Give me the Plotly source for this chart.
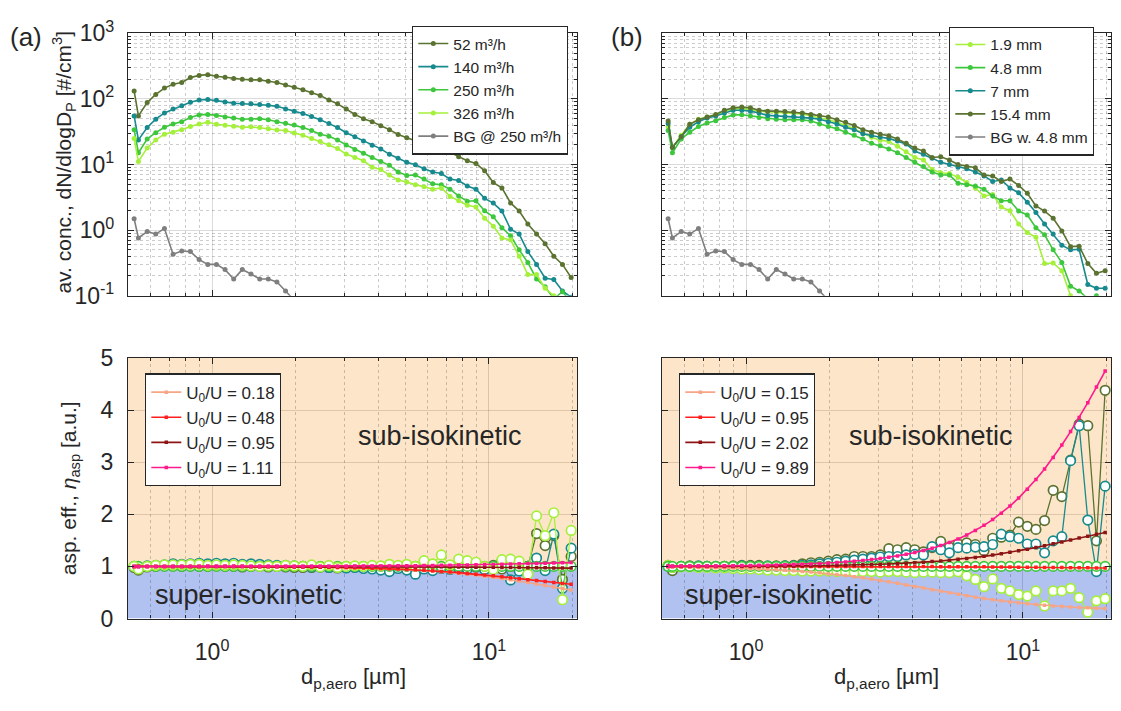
import math
import plotly.graph_objects as go

# ---------------- data ----------------
d_aero = [0.523, 0.542, 0.583, 0.626, 0.673, 0.723, 0.777, 0.835, 0.898, 0.965,
          1.037, 1.114, 1.197, 1.286, 1.382, 1.486, 1.596, 1.715, 1.843, 1.981,
          2.129, 2.288, 2.458, 2.642, 2.839, 3.051, 3.278, 3.523, 3.786, 4.068,
          4.371, 4.698, 5.048, 5.425, 5.829, 6.264, 6.732, 7.234, 7.774, 8.354,
          8.977, 9.647, 10.37, 11.14, 11.97, 12.86, 13.82, 14.86, 15.96, 17.15,
          18.43, 19.81]

# panel (a) top: flow rates
conc_52 = [132, 55, 88, 117, 146, 167, 178, 211, 228, 234,
           222, 213, 204, 199, 195, 195, 186, 178, 163, 151,
           138, 124, 113, 96, 84, 70, 58, 50, 45, 39,
           34, 28.7, 25.6, 23.2, 20.5, 18.7, 17.3, 15.3, 13.1, 11.4,
           10.4, 8.0, 5.3, 4.4, 2.6, 1.95, 1.24, 0.87, 0.62, 0.40,
           0.30, 0.19]
conc_140 = [55, 23.7, 36.7, 49, 61, 70, 78.5, 89, 96, 98,
            95, 90, 86, 85, 84, 82, 80, 77, 70, 65,
            60, 54, 48, 42, 36.7, 30.5, 26.5, 22.9, 19.6, 17.3,
            14.3, 12.4, 10.8, 9.9, 8.6, 7.7, 7.3, 6.0, 5.7, 4.7,
            4.2, 3.05, 2.58, 1.95, 1.03, 0.87, 0.47, 0.30, 0.185, 0.177,
            0.118, 0.095]
conc_250 = [34, 15.1, 24.5, 30.6, 37, 41.5, 45, 52, 57, 58,
            56, 53, 51, 49, 49, 50, 48, 45, 42.5, 40,
            36.7, 33, 29, 27, 23.7, 19.8, 16.9, 14.8, 12.8, 11.1,
            9.7, 7.7, 6.8, 6.9, 6.0, 5.1, 4.9, 4.2, 3.3, 2.75,
            2.8, 1.97, 1.6, 1.09, 0.82, 0.5, 0.32, 0.18, 0.137, 0.09,
            0.115, 0.08]
conc_326 = [25, 11.1, 17.9, 23.7, 29, 31, 34, 38, 41.5, 44,
            41, 39.7, 38.4, 37, 37.5, 36.7, 35, 33.6, 33, 30.3,
            28, 25, 22.4, 20, 17.5, 14.4, 12.8, 11.4, 9.1, 8.4,
            6.9, 5.8, 5.4, 4.9, 4.6, 4.2, 4.4, 3.26, 2.8, 2.4,
            2.25, 1.52, 1.15, 0.76, 0.71, 0.40, 0.21, 0.21, 0.13, 0.10,
            0.07, 0.05]
conc_bg = [1.49, 0.76, 0.95, 0.87, 1.06, 0.43, 0.48, 0.47, 0.355, 0.30,
           0.30, 0.25, 0.18, 0.25, 0.214, 0.18, 0.18, 0.162, 0.118, 0.085,
           None, None, None, None, None, None, None, None, None, None,
           None, None, None, None, None, None, None, None, None, None,
           None, None, None, None, None, None, None, None, None, None,
           None, None]

# panel (b) top: nozzle diameters
conc_1_9 = [38, 18, 28, 41, 49, 53, 57, 64, 70, 71,
            69, 65, 64, 62, 62, 61, 59, 55, 52, 48,
            44, 39, 35, 30, 26, 23.5, 22.4, 18.9, 15.6, 12.8,
            11.7, 8.4, 7.5, 7.3, 6.4, 5.3, 4.4, 3.3, 3.5, 2.25,
            1.97, 1.24, 0.92, 0.78, 0.31, 0.315, 0.24, 0.10, 0.07, 0.05,
            0.04, 0.03]
conc_4_8 = [33, 15.1, 24.5, 31, 38, 43, 46.5, 52, 57, 57.4,
            55, 52, 50, 49, 48, 48, 48, 46, 41.5, 38,
            35, 31, 28, 24.5, 21, 19.3, 17.3, 15.1, 12.8, 10.8,
            9.35, 7.7, 6.9, 6.9, 5.2, 4.9, 4.7, 4.2, 3.3, 2.8,
            2.8, 1.95, 1.7, 1.09, 0.85, 0.5, 0.32, 0.14, 0.118, 0.09,
            0.10, 0.07]
conc_7 = [42, 18.3, 26.5, 37, 45, 51, 55, 61, 67, 67,
          65, 61, 56, 55, 54, 54, 52.5, 51, 49, 45,
          41.5, 37, 34, 29.5, 27.6, 26, 25, 22.9, 20.5, 16,
          14.3, 12.5, 10.8, 10, 9.1, 8.6, 7.7, 6.7, 5.5, 5.8,
          4.4, 3.7, 2.67, 1.86, 1.24, 0.87, 0.59, 0.50, 0.51, 0.148,
          0.13, 0.13]
conc_15_4 = [46, 18.3, 26.5, 41, 48, 53, 58, 67, 73, 75,
             73, 67, 65, 65, 64, 63, 61, 58, 56, 53,
             48, 44, 39.4, 34, 31, 29, 27.5, 24.5, 21, 17.9,
             16, 12.8, 13.1, 11.7, 10, 9.35, 8.9, 6.9, 6.7, 5.5,
             6.0, 4.8, 3.65, 2.33, 1.95, 1.52, 0.97, 0.56, 0.57, 0.31,
             0.22, 0.24]

# panel (a) bottom: measured aspiration efficiency
eta_52 = [0.98, 0.93, 0.99, 1.00, 1.01, 1.01, 1.00, 1.01, 1.00, 1.00,
          1.01, 1.00, 1.00, 0.99, 1.00, 1.00, 0.99, 1.00, 0.99, 0.98,
          0.98, 0.98, 0.99, 0.98, 0.97, 0.98, 0.99, 0.98, 0.97, 0.96,
          0.97, 0.98, 0.97, 0.97, 0.96, 0.98, 0.97, 0.98, 0.96, 0.98,
          0.99, 0.98, 1.02, 0.95, 1.00, 0.98, 1.00, 1.63, 1.40, 1.59,
          0.75, 1.19]
eta_140 = [1.00, 0.97, 1.01, 1.02, 1.03, 1.05, 1.04, 1.05, 1.06, 1.05,
           1.06, 1.05, 1.06, 1.04, 1.05, 1.04, 1.03, 1.02, 1.02, 1.01,
           1.00, 0.99, 0.99, 0.98, 0.98, 0.97, 0.98, 0.96, 0.95, 0.93,
           0.90, 0.96, 0.93, 0.85, 0.95, 0.92, 0.96, 0.94, 0.97, 0.95,
           1.00, 0.94, 0.97, 1.10, 0.74, 0.91, 1.00, 1.16, 0.92, 1.62,
           0.58, 1.35]
eta_250 = [1.0] * 52
eta_326 = [1.00, 0.95, 1.00, 1.02, 1.03, 1.03, 1.03, 1.04, 1.04, 1.02,
           1.03, 1.02, 1.03, 1.02, 1.01, 1.00, 1.01, 1.00, 1.02, 1.01,
           1.00, 1.03, 0.99, 1.02, 0.98, 1.00, 1.01, 1.00, 1.02, 1.01,
           1.04, 1.02, 1.04, 1.00, 1.11, 1.05, 1.22, 1.03, 1.14, 1.11,
           1.08, 1.00, 0.94, 1.13, 1.14, 1.10, 0.85, 1.97, 1.59, 2.03,
           0.36, 1.69]

# panel (b) bottom: measured aspiration efficiency
eta_1_9 = [1.02, 0.98, 0.99, 0.99, 0.98, 0.98, 0.97, 0.97, 0.96, 0.95,
           0.95, 0.94, 0.93, 0.93, 0.92, 0.92, 0.91, 0.91, 0.91, 0.91,
           0.90, 0.90, 0.89, 0.90, 0.90, 0.89, 0.90, 0.90, 0.89, 0.88,
           0.89, 0.89, 0.88, 0.88, 0.895, 0.82, 0.75, 0.61, 0.76, 0.58,
           0.53, 0.46, 0.43, 0.53, 0.24, 0.53, 0.53, 0.58, 0.40, 0.12,
           0.34, 0.38]
eta_4_8 = [1.0] * 52
eta_7 = [1.00, 0.98, 1.00, 1.00, 1.01, 1.00, 1.00, 1.00, 1.00, 1.01,
         1.00, 1.00, 1.01, 1.00, 1.01, 1.01, 1.02, 1.03, 1.05, 1.06,
         1.08, 1.10, 1.12, 1.14, 1.16, 1.18, 1.19, 1.19, 1.22, 1.23,
         1.22, 1.38, 1.32, 1.26, 1.36, 1.35, 1.37, 1.38, 1.42, 1.62,
         1.57, 1.54, 1.43, 1.43, 1.26, 1.49, 1.57, 3.03, 3.70, 1.89,
         0.90, 2.54]
eta_15_4 = [1.02, 0.92, 1.00, 1.01, 1.00, 1.00, 0.99, 1.00, 1.01, 1.02,
            1.02, 1.02, 1.00, 1.01, 1.01, 1.02, 1.05, 1.07, 1.08, 1.10,
            1.13, 1.14, 1.19, 1.19, 1.19, 1.22, 1.34, 1.32, 1.36, 1.32,
            1.28, 1.36, 1.48, 1.37, 1.43, 1.45, 1.42, 1.30, 1.54, 1.56,
            1.60, 1.85, 1.77, 1.71, 1.88, 2.46, 2.34, 3.04, 3.73, 3.70,
            1.49, 4.38]

# model curves, panel (a)
model_a_018 = [0.999, 0.999, 0.999, 0.999, 0.999, 0.999, 0.998, 0.998, 0.998, 0.998,
               0.997, 0.997, 0.996, 0.996, 0.995, 0.994, 0.993, 0.992, 0.991, 0.990,
               0.988, 0.987, 0.985, 0.982, 0.980, 0.976, 0.973, 0.969, 0.964, 0.959,
               0.953, 0.946, 0.939, 0.930, 0.920, 0.909, 0.897, 0.883, 0.868, 0.851,
               0.833, 0.813, 0.791, 0.768, 0.743, 0.718, 0.690, 0.662, 0.633, 0.604,
               0.574, 0.545]
model_a_048 = [0.999, 0.999, 0.999, 0.999, 0.999, 0.999, 0.998, 0.998, 0.998, 0.998,
               0.997, 0.997, 0.996, 0.996, 0.995, 0.994, 0.994, 0.993, 0.991, 0.990,
               0.989, 0.987, 0.985, 0.983, 0.980, 0.977, 0.974, 0.970, 0.965, 0.960,
               0.955, 0.948, 0.941, 0.934, 0.925, 0.915, 0.904, 0.892, 0.880, 0.866,
               0.851, 0.835, 0.819, 0.801, 0.783, 0.765, 0.746, 0.728, 0.709, 0.691,
               0.673, 0.656]
model_a_095 = [1.000, 1.000, 1.000, 1.000, 1.000, 1.000, 1.000, 1.000, 1.000, 1.000,
               1.000, 1.000, 1.000, 1.000, 1.000, 0.999, 0.999, 0.999, 0.999, 0.999,
               0.999, 0.999, 0.999, 0.998, 0.998, 0.998, 0.997, 0.997, 0.997, 0.996,
               0.996, 0.995, 0.994, 0.994, 0.993, 0.992, 0.991, 0.990, 0.988, 0.987,
               0.986, 0.984, 0.983, 0.981, 0.979, 0.977, 0.976, 0.974, 0.972, 0.970,
               0.969, 0.967]
model_a_111 = [1.000, 1.000, 1.000, 1.000, 1.000, 1.000, 1.000, 1.000, 1.000, 1.001,
               1.001, 1.001, 1.001, 1.001, 1.001, 1.001, 1.001, 1.002, 1.002, 1.002,
               1.002, 1.003, 1.003, 1.004, 1.004, 1.005, 1.006, 1.006, 1.007, 1.008,
               1.010, 1.011, 1.012, 1.014, 1.016, 1.018, 1.020, 1.023, 1.025, 1.028,
               1.032, 1.035, 1.038, 1.042, 1.046, 1.050, 1.054, 1.058, 1.062, 1.065,
               1.069, 1.073]

# model curves, panel (b)
model_b_015 = [0.989, 0.988, 0.986, 0.984, 0.981, 0.978, 0.975, 0.971, 0.967, 0.962,
               0.957, 0.950, 0.943, 0.935, 0.926, 0.916, 0.904, 0.891, 0.877, 0.861,
               0.843, 0.824, 0.803, 0.780, 0.756, 0.730, 0.703, 0.675, 0.645, 0.615,
               0.585, 0.554, 0.524, 0.494, 0.465, 0.437, 0.410, 0.385, 0.361, 0.339,
               0.319, 0.300, 0.283, 0.268, 0.254, 0.242, 0.231, 0.221, 0.212, 0.204,
               0.197, 0.191]
model_b_095 = [1.000, 1.000, 1.000, 1.000, 1.000, 1.000, 1.000, 1.000, 1.000, 1.000,
               1.000, 1.000, 1.000, 1.000, 1.000, 1.000, 0.999, 0.999, 0.999, 0.999,
               0.999, 0.999, 0.999, 0.998, 0.998, 0.998, 0.998, 0.997, 0.997, 0.997,
               0.996, 0.996, 0.995, 0.994, 0.993, 0.993, 0.992, 0.991, 0.989, 0.988,
               0.987, 0.985, 0.984, 0.982, 0.980, 0.979, 0.977, 0.975, 0.973, 0.972,
               0.970, 0.968]
model_b_202 = [1.001, 1.001, 1.002, 1.002, 1.002, 1.002, 1.003, 1.003, 1.004, 1.004,
               1.005, 1.006, 1.007, 1.008, 1.009, 1.010, 1.012, 1.013, 1.015, 1.018,
               1.020, 1.023, 1.027, 1.031, 1.036, 1.041, 1.047, 1.054, 1.061, 1.070,
               1.080, 1.092, 1.104, 1.119, 1.135, 1.152, 1.172, 1.193, 1.217, 1.243,
               1.270, 1.300, 1.331, 1.364, 1.398, 1.434, 1.470, 1.507, 1.543, 1.579,
               1.615, 1.650]
model_b_989 = [1.005, 1.005, 1.006, 1.006, 1.007, 1.009, 1.010, 1.012, 1.013, 1.015,
               1.018, 1.020, 1.024, 1.027, 1.031, 1.036, 1.042, 1.048, 1.056, 1.064,
               1.074, 1.086, 1.099, 1.114, 1.131, 1.151, 1.174, 1.201, 1.231, 1.265,
               1.305, 1.350, 1.402, 1.461, 1.528, 1.604, 1.691, 1.788, 1.898, 2.021,
               2.158, 2.311, 2.481, 2.667, 2.870, 3.091, 3.329, 3.587, 3.857, 4.143,
               4.441, 4.750]

labels_a = ["52 m³/h", "140 m³/h", "250 m³/h", "326 m³/h", "BG @ 250 m³/h"]
labels_b = ["1.9 mm", "4.8 mm", "7 mm", "15.4 mm", "BG w. 4.8 mm"]
model_labels_a = ["U<sub>0</sub>/U = 0.18", "U<sub>0</sub>/U = 0.48",
                  "U<sub>0</sub>/U = 0.95", "U<sub>0</sub>/U = 1.11"]
model_labels_b = ["U<sub>0</sub>/U = 0.15", "U<sub>0</sub>/U = 0.95",
                  "U<sub>0</sub>/U = 2.02", "U<sub>0</sub>/U = 9.89"]

# ---------------- style ----------------
OLIVE = "#5B7331"
TEAL = "#178A8E"
GREEN = "#3DC73D"
LIME = "#A5F03A"
GRAY = "#7F7F7F"
SALMON = "#F7A584"
RED = "#FF1F1F"
DARKRED = "#8C1414"
PINK = "#FF1A8C"
ORANGE_BG = "#FDE5C9"
BLUE_BG = "#B1C1F0"
AX = "#262626"
FONT = "Liberation Sans, Arial, sans-serif"
TICK_SIZE = 23

W, H = 1121, 711


def px_x(p):
    return p / W


def px_y(p):
    return 1 - p / H


fig = go.Figure()


def conc_trace(y, name, color, xa, ya, legend):
    return go.Scatter(x=d_aero, y=y, name=name, mode="lines+markers",
                      line=dict(color=color, width=1.6),
                      marker=dict(color=color, size=5, symbol="circle"),
                      xaxis=xa, yaxis=ya, legend=legend, connectgaps=False)


def eta_trace(y, color, xa, ya):
    return go.Scatter(x=d_aero, y=y, mode="lines+markers", showlegend=False,
                      line=dict(color=color, width=1.3),
                      marker=dict(color="white", size=9.5, symbol="circle",
                                  line=dict(color=color, width=1.7)),
                      xaxis=xa, yaxis=ya)


def model_trace(y, name, color, xa, ya, legend):
    return go.Scatter(x=d_aero, y=y, name=name, mode="lines+markers",
                      line=dict(color=color, width=1.6),
                      marker=dict(color=color, size=3.5, symbol="square"),
                      xaxis=xa, yaxis=ya, legend=legend)


# top (a)
for y, nm, c in zip([conc_52, conc_140, conc_250, conc_326, conc_bg], labels_a,
                    [OLIVE, TEAL, GREEN, LIME, GRAY]):
    fig.add_trace(conc_trace(y, nm, c, "x", "y", "legend"))
# top (b)
for y, nm, c in zip([conc_1_9, conc_4_8, conc_7, conc_15_4, conc_bg], labels_b,
                    [LIME, GREEN, TEAL, OLIVE, GRAY]):
    fig.add_trace(conc_trace(y, nm, c, "x2", "y2", "legend2"))
# bottom (a) measured
for y, c in zip([eta_52, eta_140, eta_250, eta_326], [OLIVE, TEAL, GREEN, LIME]):
    fig.add_trace(eta_trace(y, c, "x3", "y3"))
# bottom (a) model
for y, nm, c in zip([model_a_018, model_a_048, model_a_095, model_a_111], model_labels_a,
                    [SALMON, RED, DARKRED, PINK]):
    fig.add_trace(model_trace(y, nm, c, "x3", "y3", "legend3"))
# bottom (b) measured
for y, c in zip([eta_15_4, eta_7, eta_1_9, eta_4_8], [OLIVE, TEAL, LIME, GREEN]):
    fig.add_trace(eta_trace(y, c, "x4", "y4"))
# bottom (b) model
for y, nm, c in zip([model_b_015, model_b_095, model_b_202, model_b_989], model_labels_b,
                    [SALMON, RED, DARKRED, PINK]):
    fig.add_trace(model_trace(y, nm, c, "x4", "y4", "legend4"))

# ---------------- axes ----------------
xdom_a = [px_x(128), px_x(577)]
xdom_b = [px_x(662), px_x(1111)]
ydom_top = [px_y(291), px_y(17)]
ydom_bot = [px_y(628), px_y(356)]

xminor = [0.6, 0.7, 0.8, 0.9, 2, 3, 4, 5, 6, 7, 8, 9, 20]
yminor = [m * 10 ** p for p in range(-1, 3) for m in range(2, 10)]


def xaxis(domain, anchor, labels):
    return dict(type="log", domain=domain, anchor=anchor,
                range=[math.log10(0.497), math.log10(20.8)],
                showline=True, linecolor=AX, linewidth=1.2, mirror="allticks",
                ticks="inside", ticklen=6, tickcolor=AX, ticklabelstandoff=13,
                tickvals=[1, 10], ticktext=["10<sup>0</sup>", "10<sup>1</sup>"],
                showticklabels=labels, tickfont=dict(size=TICK_SIZE, color=AX, family=FONT),
                showgrid=True, gridcolor="rgba(0,0,0,0.14)", gridwidth=1.2,
                zeroline=False,
                minor=dict(tickmode="array", tickvals=xminor, ticks="inside", ticklen=3,
                           tickcolor=AX, showgrid=True, gridcolor="rgba(0,0,0,0.2)",
                           griddash="dot", gridwidth=1))


def ylog(domain, anchor, labels):
    return dict(type="log", domain=domain, anchor=anchor, range=[-1, 3],
                showline=True, linecolor=AX, linewidth=1.2, mirror="allticks",
                ticks="inside", ticklen=6, tickcolor=AX, ticklabelstandoff=8,
                tickvals=[0.1, 1, 10, 100, 1000],
                ticktext=["10<sup>-1</sup>", "10<sup>0</sup>", "10<sup>1</sup>",
                          "10<sup>2</sup>", "10<sup>3</sup>"],
                showticklabels=labels, tickfont=dict(size=TICK_SIZE, color=AX, family=FONT),
                showgrid=True, gridcolor="rgba(0,0,0,0.14)", gridwidth=1.2,
                zeroline=False,
                minor=dict(tickmode="array", tickvals=yminor, ticks="inside", ticklen=3,
                           tickcolor=AX, showgrid=True, gridcolor="rgba(0,0,0,0.2)",
                           griddash="dot", gridwidth=1))


def ylin(domain, anchor, labels):
    return dict(type="linear", domain=domain, anchor=anchor, range=[0, 5],
                showline=True, linecolor=AX, linewidth=1.2, mirror="allticks",
                ticks="inside", ticklen=6, tickcolor=AX, dtick=1, tick0=0,
                ticklabelstandoff=9,
                showticklabels=labels, tickfont=dict(size=TICK_SIZE, color=AX, family=FONT),
                showgrid=True, gridcolor="rgba(90,60,30,0.18)", gridwidth=1.2,
                zeroline=False)


legend_top = dict(bgcolor="white", bordercolor=AX, borderwidth=1.3,
                  font=dict(size=15.5, color=AX, family=FONT),
                  xanchor="left", yanchor="top", tracegroupgap=0)
legend_bot = dict(legend_top, font=dict(size=17, color=AX, family=FONT))

fig.update_layout(
    width=W, height=H, margin=dict(l=0, r=0, t=0, b=0),
    paper_bgcolor="white", plot_bgcolor="white",
    font=dict(family=FONT, color=AX, size=16),
    xaxis=xaxis(xdom_a, "y", False),
    yaxis=ylog(ydom_top, "x", True),
    xaxis2=xaxis(xdom_b, "y2", False),
    yaxis2=ylog(ydom_top, "x2", False),
    xaxis3=xaxis(xdom_a, "y3", True),
    yaxis3=ylin(ydom_bot, "x3", True),
    xaxis4=xaxis(xdom_b, "y4", True),
    yaxis4=ylin(ydom_bot, "x4", False),
    legend=dict(legend_top, x=px_x(412), y=px_y(9)),
    legend2=dict(legend_top, x=px_x(949), y=px_y(10)),
    legend3=dict(legend_bot, x=px_x(145), y=px_y(372)),
    legend4=dict(legend_bot, x=px_x(679), y=px_y(372)),
)

# background regions in the aspiration panels
for xr, yr in [("x3 domain", "y3"), ("x4 domain", "y4")]:
    fig.add_shape(type="rect", xref=xr, yref=yr, x0=0, x1=1, y0=1, y1=5,
                  fillcolor=ORANGE_BG, line=dict(width=0), layer="below")
    fig.add_shape(type="rect", xref=xr, yref=yr, x0=0, x1=1, y0=0, y1=1,
                  fillcolor=BLUE_BG, line=dict(width=0), layer="below")

ann = []


def text(x, y, s, size, angle=0):
    ann.append(dict(x=px_x(x), y=px_y(y), xref="paper", yref="paper", text=s,
                    showarrow=False, textangle=angle, xanchor="center", yanchor="middle",
                    font=dict(size=size, color=AX, family=FONT)))


text(26, 21, "(a)", 26)
text(627, 21, "(b)", 26)
text(64, 152, "av. conc., dN/dlogD<sub>P</sub> [#/cm<sup>3</sup>]", 21, -90)
text(70, 492, "asp. eff., <i>η</i><sub>asp</sub> [a.u.]", 21, -90)
text(353, 690, "d<sub>p,aero</sub> [µm]", 22)
text(886, 690, "d<sub>p,aero</sub> [µm]", 22)
text(440, 437, "sub-isokinetic", 27)
text(931, 437, "sub-isokinetic", 27)
text(249, 603, "super-isokinetic", 27)
text(779, 603, "super-isokinetic", 27)
fig.update_layout(annotations=ann)

fig.write_html("out.html")
